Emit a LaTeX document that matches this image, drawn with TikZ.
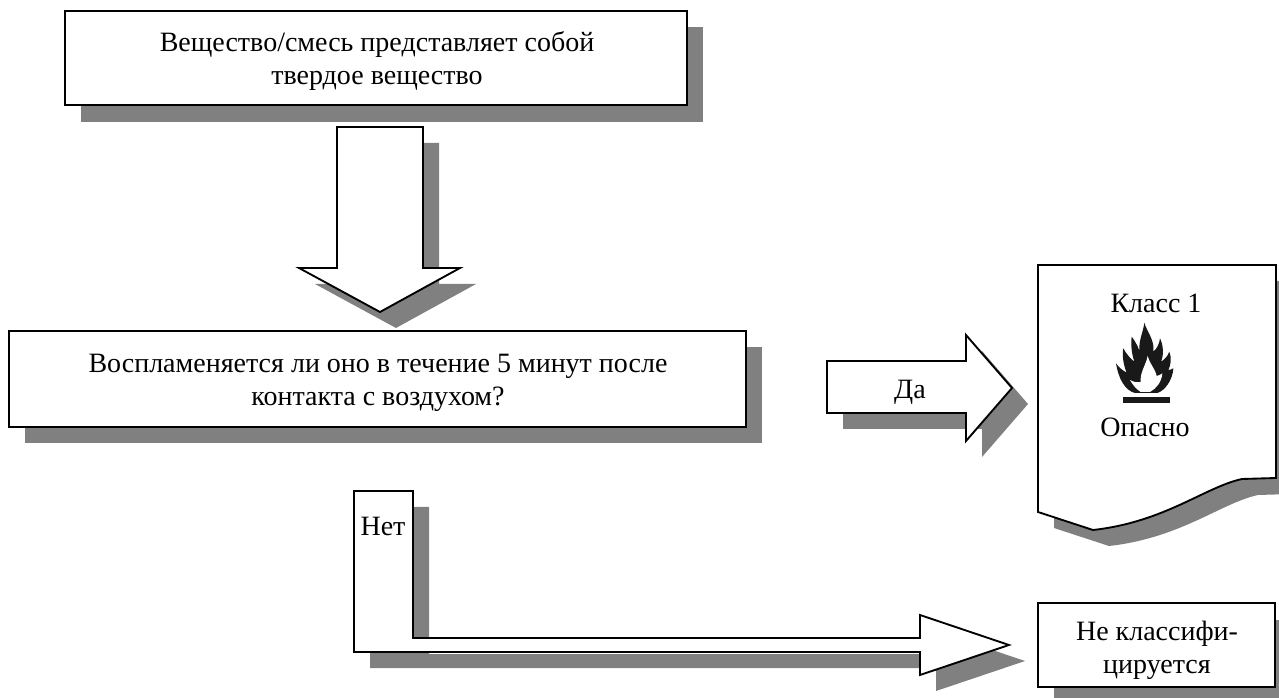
\documentclass[tikz,border=0pt]{standalone}
\usepackage{fontspec}
\setmainfont{Liberation Serif}
\definecolor{shadowgray}{HTML}{808080}
\tikzset{
  x=0.75pt,y=-0.75pt,
  outl/.style={draw=black,line width=1.4pt,fill=white,line join=miter,miter limit=10},
  shad/.style={fill=shadowgray,draw=none},
  lab/.style={font=\fontsize{21}{25}\selectfont,align=center,inner sep=0pt,outer sep=0pt},
  boxn/.style={outl,inner sep=0pt,outer sep=0pt,anchor=north west},
}
\def\pA{(337,127)--(423,127)--(423,268)--(460,268)--(380,312)--(299,268)--(337,268)--cycle}
\def\pB{(827,361)--(966,361)--(966,335)--(1012,388)--(966,441)--(966,413)--(827,413)--cycle}
\def\pC{(354,491)--(413,491)--(413,638)--(920,638)--(920,615)--(1009,645)--(920,675)--(920,652)--(354,652)--cycle}
\def\pD{(1038,265)--(1276,265)--(1276,478)--(1242,479) .. controls (1205,487) and (1165,522) .. (1093,530)--(1038,512)--cycle}
\begin{document}
\begin{tikzpicture}
\useasboundingbox (0,0) rectangle (1279,698);
% shadows
\fill[shad] (81,27) rectangle (703,122);
\fill[shad] (25,347) rectangle (762,443);
\fill[shad] (1054,620) rectangle (1279,698);
\begin{scope}[shift={(16,16)}]
\fill[shad] \pA; \fill[shad] \pB; \fill[shad] \pC; \fill[shad] \pD;
\end{scope}
% shapes
\node[boxn,minimum width=466.5pt,minimum height=70.5pt] (top) at (65,11) {};
\draw[outl] \pA;
\node[boxn,minimum width=552.75pt,minimum height=72pt] (q) at (9,331) {};
\draw[outl] \pB;
\draw[outl] \pC;
\draw[outl] \pD;
\node[boxn,minimum width=177.75pt,minimum height=63pt] (nc) at (1038,603) {};
\node[lab] (toptext) at (377,61) {Вещество/смесь представляет собой\\твердое вещество};
\node[lab] (qtext) at (378,383) {Воспламеняется ли оно в течение 5 минут после\\контакта с воздухом?};
\node[lab] (nctext) at (1157,650) {Не классифи-\\цируется};
\node[lab] (yes) at (910,392) {Да};
\node[lab] (no) at (383,526) {Нет};
\node[lab] (k) at (1156,303) {Класс 1};
\node[lab] (d) at (1145,427) {Опасно};
% pictogram
\begin{scope}[shift={(1100,320)},x=0.25pt,y=-0.25pt]
\fill[black!90] (70,232) rectangle (210,248);
\fill[black!90] (133,8) .. controls (138,30) and (165,60) .. (160,95)
 .. controls (172,85) and (178,70) .. (180,55)
 .. controls (190,75) and (192,105) .. (183,125)
 .. controls (195,118) and (203,108) .. (208,95)
 .. controls (216,115) and (212,135) .. (205,150)
 .. controls (210,150) and (215,148) .. (220,145)
 .. controls (218,180) and (195,212) .. (172,219)
 -- (105,219)
 .. controls (75,212) and (55,175) .. (48,130)
 .. controls (55,140) and (65,150) .. (80,158)
 .. controls (70,135) and (66,105) .. (70,85)
 .. controls (78,100) and (90,115) .. (103,125)
 .. controls (95,100) and (92,75) .. (95,50)
 .. controls (103,60) and (112,75) .. (118,92)
 .. controls (116,60) and (130,35) .. (133,8) -- cycle;
\fill[white] (143,108) .. controls (148,130) and (165,145) .. (170,168)
 .. controls (176,167) and (182,164) .. (187,160)
 .. controls (185,185) and (170,205) .. (150,216)
 -- (122,216)
 .. controls (110,208) and (98,195) .. (90,180)
 .. controls (100,186) and (112,188) .. (122,186)
 .. controls (120,155) and (138,135) .. (143,108) -- cycle;
\end{scope}
\end{tikzpicture}
\end{document}
